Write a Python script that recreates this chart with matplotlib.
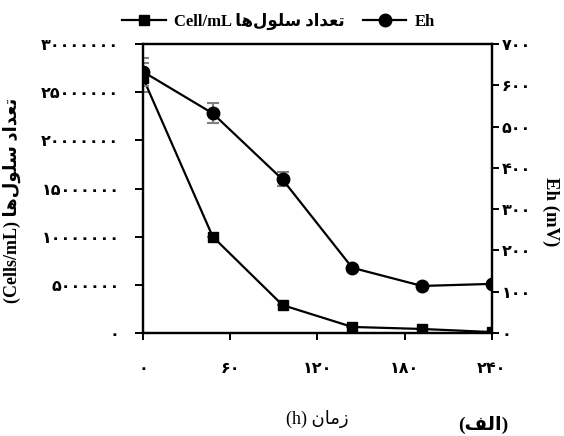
import matplotlib
matplotlib.use("Agg")
import matplotlib.pyplot as plt
from matplotlib.ticker import FixedLocator, FuncFormatter
from matplotlib.lines import Line2D

plt.rcParams['font.family'] = ['Liberation Serif', 'DejaVu Sans']
plt.rcParams['font.weight'] = 'bold'

# data
time_h = [0, 48, 96, 144, 192, 240]
cells = [26500000, 10000000, 2900000, 630000, 420000, 100000]
cells_err = [1500000, 0, 0, 0, 0, 0]
eh = [633, 532, 372, 158, 114, 119]
eh_err = [34, 24, 17, 0, 0, 0]
x_ticks = [0, 60, 120, 180, 240]
left_ticks = [0, 5000000, 10000000, 15000000, 20000000, 25000000, 30000000]
right_ticks = [0, 100, 200, 300, 400, 500, 600, 700]

FA = str.maketrans('0123456789', '\u06f0\u06f1\u06f2\u06f3\u06f4\u06f5\u06f6\u06f7\u06f8\u06f9')
def fa(v, pos=None):
    return str(int(round(v))).translate(FA)

# Persian strings in visual (pre-shaped) order
persian_cells = "\uFE8E\uFEEB\uFEDD\uFEEE\uFEE0\uFEB3 \uFEA9\uFE8D\uFEAA\uFECC\uFE97"
persian_time = "\uFEE5\uFE8E\uFEE3\uFEAF"
persian_alef = "\uFED2\uFEDF\uFE8D"

fig = plt.figure(figsize=(5.64, 4.36), dpi=100)
ax1 = fig.add_axes([0.2535, 0.2362, 0.6185, 0.6628])
ax2 = ax1.twinx()

ax1.errorbar(time_h, cells, yerr=cells_err, fmt='none', ecolor='#808080',
             elinewidth=1.5, capsize=4, capthick=1.5, zorder=1)
ax1.plot(time_h, cells, color='black', marker='s', markersize=7.5, linewidth=1.6, zorder=3)
ax2.errorbar(time_h, eh, yerr=eh_err, fmt='none', ecolor='#808080',
             elinewidth=1.5, capsize=4, capthick=1.5, zorder=1)
ax2.plot(time_h, eh, color='black', marker='o', markersize=9, linewidth=1.6, zorder=3)

ax1.set_xlim(0, 240)
ax1.set_ylim(0, 30000000)
ax2.set_ylim(0, 700)
ax1.xaxis.set_major_locator(FixedLocator(x_ticks))
ax1.yaxis.set_major_locator(FixedLocator(left_ticks))
ax2.yaxis.set_major_locator(FixedLocator(right_ticks))
ax1.xaxis.set_major_formatter(FuncFormatter(fa))
ax1.yaxis.set_major_formatter(FuncFormatter(fa))
ax2.yaxis.set_major_formatter(FuncFormatter(fa))

for ax in (ax1, ax2):
    for s in ax.spines.values():
        s.set_linewidth(1.6)
ax1.tick_params(axis='x', direction='out', length=5, width=1.4, pad=15, labelsize=11.5)
ax1.tick_params(axis='y', direction='out', length=6, width=1.4, pad=11, labelsize=11.5)
ax2.tick_params(axis='y', direction='out', length=5, width=1.4, pad=2, labelsize=11.5)
for lab in ax1.get_xticklabels() + ax1.get_yticklabels() + ax2.get_yticklabels():
    lab.set_fontweight('bold')

ax1.set_ylabel("(Cells/mL) " + persian_cells, fontsize=13, fontweight='bold')
ax1.yaxis.set_label_coords(-0.35, 0.46)
ax2.set_ylabel("Eh (mV)", fontsize=13.5, fontweight='bold', rotation=270, va='center')
ax2.yaxis.set_label_coords(1.17, 0.42)

fig.text(0.562, 0.04, "(h) " + persian_time, fontsize=13, fontweight='normal',
         ha='center', va='center')
fig.text(0.857, 0.025, "(" + persian_alef + ")", fontsize=14, fontweight='bold',
         ha='center', va='center')

h1 = Line2D([], [], color='black', marker='s', markersize=7.5, linewidth=1.6)
h2 = Line2D([], [], color='black', marker='o', markersize=9, linewidth=1.6)
fig.legend([h1, h2], ["Cell/mL " + persian_cells, "Eh"], loc='center',
           bbox_to_anchor=(0.494, 0.95), ncol=2, frameon=False, handlelength=2.6,
           handletextpad=0.5, columnspacing=1.1, prop={'size': 12, 'weight': 'bold'})

fig.savefig("out.png", dpi=100)
